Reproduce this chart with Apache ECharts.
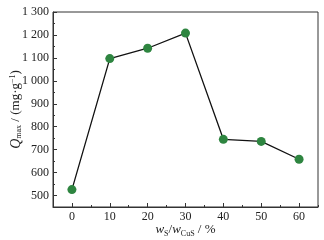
<!DOCTYPE html>
<html><head><meta charset="utf-8">
<script src="https://cdn.jsdelivr.net/npm/echarts@6/dist/echarts.min.js"></script>
<style>html,body{margin:0;padding:0;background:#fff}#c{width:324px;height:240px}</style>
</head><body><div id="c"></div>
<script>
const xValues = [0, 10, 20, 30, 40, 50, 60];
const qMax = [526, 1097, 1142, 1208, 745, 736, 658];
const xMajorTicks = [0, 10, 20, 30, 40, 50, 60];
const yMajorTicks = [500, 600, 700, 800, 900, 1000, 1100, 1200, 1300];

const font = '"Liberation Serif", "Times New Roman", serif';
const fmt = v => v >= 1000 ? String(v).replace(/(\d)(\d{3})$/, '$1 $2') : String(v);
const chart = echarts.init(document.getElementById('c'));
chart.setOption({
  animation: false,
  grid: {left: 53, right: 6, top: 12, bottom: 33, containLabel: false, outerBoundsMode: 'none',
         show: true, borderColor: '#333', borderWidth: 1, backgroundColor: 'transparent'},
  xAxis: [{
    type: 'value', min: -5, max: 65, interval: 5,
    axisLine: {show: true, onZero: false, lineStyle: {color: '#333', width: 1}},
    axisTick: {show: true, inside: true, length: 4, customValues: xMajorTicks, lineStyle: {color: '#333'}},
    axisLabel: {customValues: xMajorTicks, fontFamily: font, fontSize: 12, color: '#222', margin: 4},
    splitLine: {show: false},
    name: '{w|w}{sub|S}{n|/}{w|w}{sub|CuS}{n| / %}',
    nameLocation: 'middle', nameGap: 15, nameMoveOverlap: false,
    nameTextStyle: {rich: {
      w: {fontFamily: font, fontStyle: 'italic', fontSize: 13, color: '#222', lineHeight: 16},
      n: {fontFamily: font, fontSize: 13, color: '#222', lineHeight: 16},
      sub: {fontFamily: font, fontSize: 8, color: '#222', verticalAlign: 'bottom', lineHeight: 10, padding: [4, 0, 0, 0]}
    }}
  }, {
    type: 'value', min: -5, max: 65, interval: 5, position: 'bottom',
    axisLine: {show: false, onZero: false},
    axisTick: {show: true, inside: true, length: 2, lineStyle: {color: '#333'}},
    axisLabel: {show: false}, splitLine: {show: false}
  }],
  yAxis: [{
    type: 'value', min: 450, max: 1300, interval: 50,
    axisLine: {show: true, onZero: false, lineStyle: {color: '#333', width: 1}},
    axisTick: {show: true, inside: true, length: 4, customValues: yMajorTicks, lineStyle: {color: '#333'}},
    axisLabel: {customValues: yMajorTicks, formatter: fmt, fontFamily: font, fontSize: 12, color: '#222', margin: 4},
    splitLine: {show: false},
    name: '{q|Q}{sub|max}{n| / (mg·g}{sup|−1}{n|)}',
    nameLocation: 'middle', nameGap: 30, nameRotate: 90, nameMoveOverlap: false,
    nameTextStyle: {rich: {
      q: {fontFamily: font, fontStyle: 'italic', fontSize: 14, color: '#222'},
      n: {fontFamily: font, fontSize: 13, color: '#222'},
      sub: {fontFamily: font, fontSize: 8, color: '#222', verticalAlign: 'bottom', padding: [5, 0, 0, 0]},
      sup: {fontFamily: font, fontSize: 8, color: '#222', verticalAlign: 'top', padding: [0, 0, 5, 0]}
    }}
  }, {
    type: 'value', min: 450, max: 1300, interval: 50, position: 'left',
    axisLine: {show: false, onZero: false},
    axisTick: {show: true, inside: true, length: 2, lineStyle: {color: '#333'}},
    axisLabel: {show: false}, splitLine: {show: false}
  }],
  series: [{
    type: 'line',
    data: xValues.map((x, i) => [x, qMax[i]]),
    symbol: 'circle', symbolSize: 9,
    lineStyle: {color: '#111', width: 1.3},
    itemStyle: {color: '#2e8540', borderWidth: 0}
  }]
});
</script></body></html>
